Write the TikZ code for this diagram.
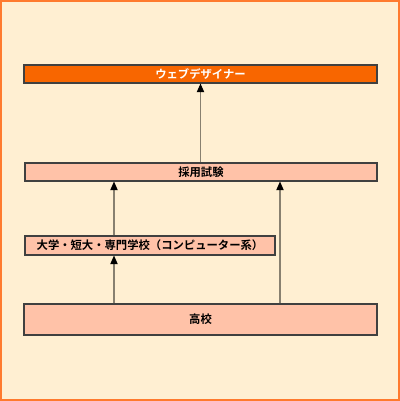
\documentclass[tikz,border=0pt]{standalone}
\usepackage{fontspec}
\setmainfont{Noto Sans CJK JP}[BoldFont={Noto Sans CJK JP Bold}]
\usetikzlibrary{arrows.meta}
\definecolor{bgcream}{HTML}{FFEFD2}
\definecolor{frameorange}{HTML}{FF7A2E}
\definecolor{topfill}{HTML}{F86600}
\definecolor{pinkfill}{HTML}{FFC2A8}
\definecolor{boxline}{HTML}{404040}
\definecolor{conline}{HTML}{888070}
\tikzset{
  box/.style={draw=boxline, line width=0.8pt, inner sep=0pt, font=\fontsize{8.5pt}{10pt}\selectfont\bfseries},
  topbox/.style={box, fill=topfill, text=white},
  pinkbox/.style={box, fill=pinkfill, text=black},
  conn/.style={draw=conline, line width=0.8pt, -{Triangle[width=5.5pt,length=6.5pt,color=black]}}
}
\begin{document}
\begin{tikzpicture}[x=0.75pt,y=-0.75pt]
\useasboundingbox (0,0) rectangle (400,401);
\draw[fill=bgcream, draw=frameorange, line width=1.5pt] (1,1) rectangle (399,400);
\node[topbox, minimum width=353*0.75pt, minimum height=18*0.75pt] (web) at (200.5,74) {ウェブデザイナー};
\node[pinkbox, minimum width=352*0.75pt, minimum height=18*0.75pt] (exam) at (201,172) {採用試験};
\node[pinkbox, minimum width=250*0.75pt, minimum height=19*0.75pt] (univ) at (150,245.5) {大学・短大・専門学校（コンピューター系）};
\node[pinkbox, minimum width=353*0.75pt, minimum height=31*0.75pt] (high) at (200.5,319.5) {高校};
\coordinate (xa) at (200.5,0);
\coordinate (xb) at (114,0);
\coordinate (xc) at (280,0);
\draw[conn] (exam.north -| xa) -- (web.south -| xa);
\draw[conn] (univ.north -| xb) -- (exam.south -| xb);
\draw[conn] (high.north -| xb) -- (univ.south -| xb);
\draw[conn] (high.north -| xc) -- (exam.south -| xc);
\end{tikzpicture}
\end{document}
